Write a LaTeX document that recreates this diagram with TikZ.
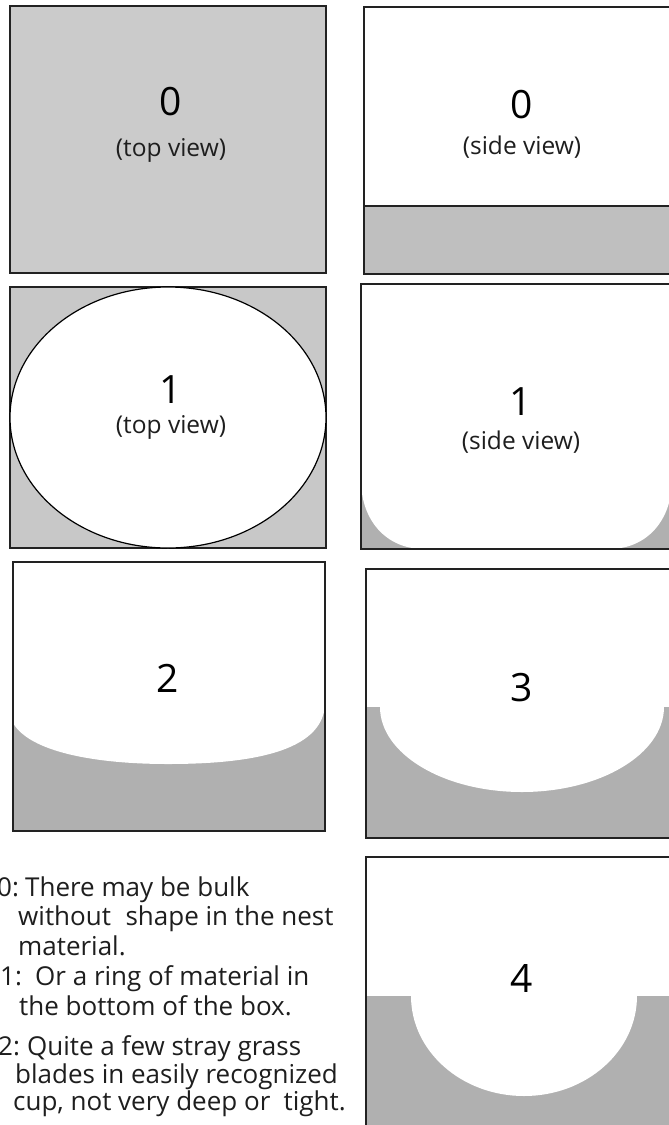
\documentclass[tikz,border=0pt]{standalone}
\usepackage{fontspec}
\setmainfont{Open Sans}
\definecolor{grayA}{HTML}{CBCBCB}
\definecolor{grayB}{HTML}{BFBFBF}
\definecolor{grayC}{HTML}{C8C8C8}
\definecolor{grayD}{HTML}{B0B0B0}
\definecolor{edge}{HTML}{222222}
\definecolor{labtext}{HTML}{1E1E1E}
\begin{document}
\begin{tikzpicture}[x=1pt,y=-1pt,
  boxline/.style={draw=edge,line width=1.4pt},
  numlabel/.style={font=\fontsize{39}{42}\selectfont,text=black,inner sep=0pt},
  viewlabel/.style={font=\fontsize{24.5}{28}\selectfont,text=labtext,inner sep=0pt},
  notetext/.style={font=\fontsize{26}{30}\selectfont,text=labtext,inner sep=0pt,anchor=base west}]
\useasboundingbox (0,0) rectangle (669,1125);
\clip (0,0) rectangle (669,1125);
\fill[white] (0,0) rectangle (669,1125);

% Box A: 0 top view
\filldraw[fill=grayA,boxline] (10,6) rectangle (326,273);
\node[numlabel] (a0) at (171,102) {0};
\node[viewlabel] (a0v) at (171,150) {(top view)};

% Box B: 0 side view
\fill[white] (364,7) rectangle (682,274);
\filldraw[fill=grayB,boxline] (364,206) rectangle (682,274);
\draw[boxline] (364,7) rectangle (682,274);
\node[numlabel] (b0) at (522,105) {0};
\node[viewlabel] (b0v) at (522,147) {(side view)};

% Box C: 1 top view
\filldraw[fill=grayC,boxline] (10,287) rectangle (326,548);
\filldraw[fill=white,draw=black,line width=1.2pt] (168,417.5) ellipse [x radius=158, y radius=130.5];
\node[numlabel] (c1) at (171,390) {1};
\node[viewlabel] (c1v) at (171,427) {(top view)};

% Box D: 1 side view
\fill[grayD] (361,284) rectangle (672,549);
\fill[white] (361,284) -- (361,480) .. controls (361,520) and (386,549) .. (424,549)
  -- (609,549) .. controls (647,549) and (672,520) .. (672,480) -- (672,284) -- cycle;
\draw[boxline] (361,284) rectangle (672,549);
\node[numlabel] (d1) at (521,402) {1};
\node[viewlabel] (d1v) at (521,442) {(side view)};

% Box E: 2
\fill[grayD] (13,562) rectangle (325,831);
\fill[white] (13,562) -- (13,723) .. controls (30,752) and (95,764) .. (168,764)
  .. controls (250,764) and (322,752) .. (325,705) -- (325,562) -- cycle;
\draw[boxline] (13,562) rectangle (325,831);
\node[numlabel] (e2) at (168,678) {2};

% Box F: 3
\fill[grayD] (366,707) rectangle (682,838);
\fill[white] (366,569) rectangle (682,707);
\fill[white] (380,707) arc[start angle=180, end angle=0, x radius=142, y radius=85] -- cycle;
\draw[boxline] (366,569) rectangle (682,838);
\node[numlabel] (f3) at (522,688) {3};

% Box G: 4
\fill[grayD] (366,996) rectangle (682,1135);
\fill[white] (366,857) rectangle (682,996);
\fill[white] (411,996) arc[start angle=180, end angle=0, x radius=113, y radius=100] -- cycle;
\draw[boxline] (366,857) rectangle (682,1135);
\node[numlabel] (g4) at (522,978) {4};

% Notes
\node[notetext] (n0a) at (-3,896) {0:};
\node[notetext] (n0b) at (25,896) {There may be bulk};
\node[notetext] (n0c) at (18,925) {without\hspace{0.3em} shape in the nest};
\node[notetext] (n0d) at (18,955) {material.};
\node[notetext] (n1a) at (0,985) {1:};
\node[notetext] (n1b) at (35,985) {Or a ring of material in};
\node[notetext] (n1c) at (19,1015) {the bottom of the box.};
\node[notetext] (n2a) at (-2,1055) {2:};
\node[notetext] (n2b) at (27,1055) {Quite a few stray grass};
\node[notetext] (n2c) at (15,1083) {blades in easily recognized};
\node[notetext] (n2d) at (13,1110) {cup, not very deep or\hspace{0.25em} tight.};
\end{tikzpicture}
\end{document}
